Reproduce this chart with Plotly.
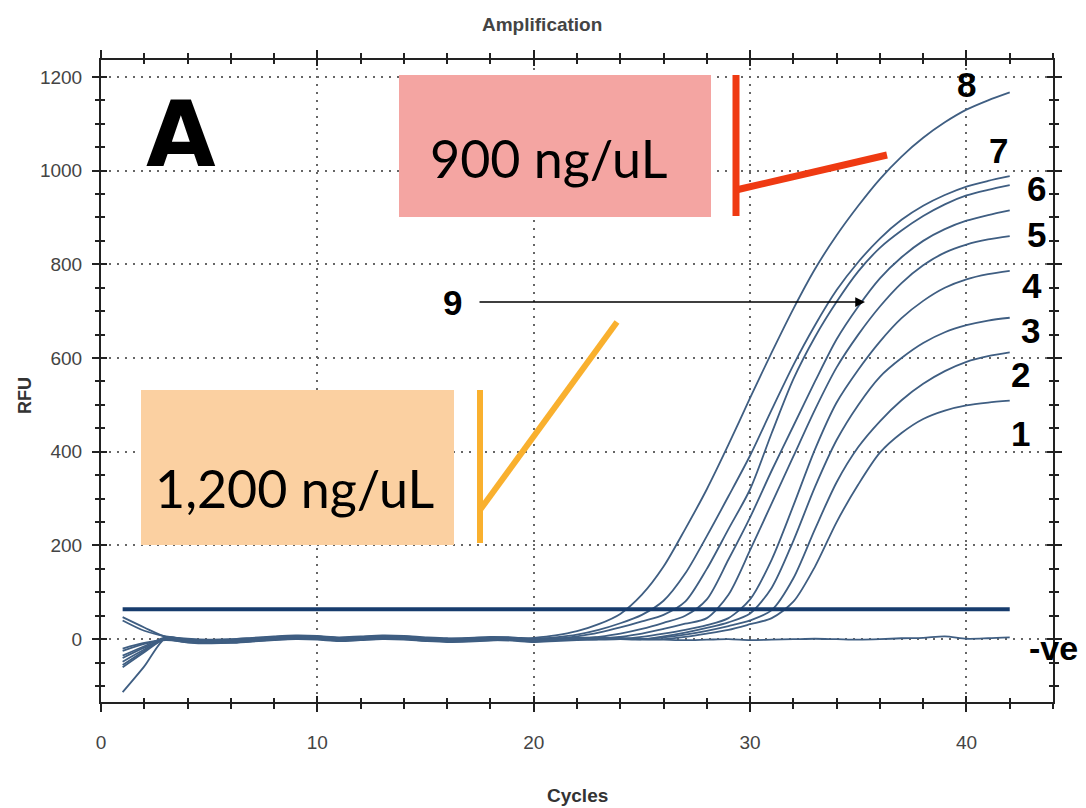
import plotly.graph_objects as go

# ---------------- data ----------------
cycles = list(range(1, 43))

# shared baseline (RFU) for cycles 1..42 (used by -ve and by flat parts of the curves)
baseline = [0, 5, 2, -3, -5, -4, -1, 2, 4, 3, 0, 2, 4, 3, 0, -2, -1, 1, 0, -3,
            -1, 1, 2, 1, 0, -1, -2, -1, 0, -2, -1, 0, 1, 0, -1, 0, 2, 3, 6, 1, 2, 4]

curve_names = ["A", "B", "C", "D", "E", "F", "G", "H", "I"]
start_c1 = [-25, 47, -40, 40, -55, -20, -113, -35, -48]
start_c2 = [-10, 25, -18, 18, -25, -8, -58, -15, -22]
band_offset = [-4, 3, -2, 4, 0, -3, 1, 2, -1]
rise_start = [19, 20, 21, 22, 23, 24, 25, 25, 26]
rise_A = [0, 3, 8, 17, 32, 54, 95, 155, 235, 320, 415, 515, 612, 705, 790, 862, 925, 982, 1030, 1070, 1103, 1130, 1150, 1167]
rise_B = [0, 4, 10, 20, 34, 52, 82, 140, 220, 305, 392, 490, 585, 670, 745, 805, 855, 895, 925, 948, 966, 978, 988]
rise_C = [0, 6, 14, 25, 38, 52, 80, 150, 235, 320, 440, 555, 645, 720, 785, 835, 872, 903, 928, 947, 959, 969]
rise_D = [0, 5, 12, 22, 35, 50, 85, 170, 260, 360, 455, 550, 640, 710, 770, 815, 850, 875, 893, 905, 915]
rise_E = [0, 5, 12, 22, 33, 45, 95, 190, 290, 390, 490, 580, 650, 710, 760, 798, 825, 842, 853, 860]
rise_F = [0, 5, 12, 20, 30, 45, 85, 170, 285, 405, 505, 575, 635, 685, 722, 750, 768, 779, 786]
rise_G = [0, 6, 14, 24, 36, 55, 110, 210, 325, 425, 500, 560, 600, 632, 655, 670, 680, 686]
rise_H = [0, 4, 10, 18, 28, 40, 62, 130, 235, 335, 410, 465, 510, 545, 572, 592, 604, 612]
rise_I = [0, 5, 12, 20, 32, 45, 80, 155, 250, 330, 398, 440, 470, 488, 499, 505, 509]
rises = [rise_A, rise_B, rise_C, rise_D, rise_E, rise_F, rise_G, rise_H, rise_I]

neg_c1, neg_c2 = -60, -28
threshold_x = [1, 42]
threshold_y = [64, 64]

curve_labels = ["8", "7", "6", "5", "4", "3", "2", "1"]
label_px = [(966, 84), (998, 150), (1036, 188), (1036, 234), (1032, 285), (1030, 330), (1020, 374), (1020, 434)]

# ---------------- layout helpers ----------------
W, H = 1086, 808
L, R, T, B = 101, 1053, 60, 702
def px(x):
    return (x - L) / (R - L)
def py(y):
    return (B - y) / (B - T)

LINE = "#3f5e82"
fig = go.Figure()

for i, name in enumerate(curve_names):
    ys = []
    for c in cycles:
        if c == 1:
            ys.append(start_c1[i])
        elif c == 2:
            ys.append(start_c2[i])
        elif c < rise_start[i]:
            ys.append(baseline[c - 1] + band_offset[i])
        else:
            ys.append(rises[i][c - rise_start[i]])
    fig.add_trace(go.Scatter(x=cycles, y=ys, mode="lines", name=name,
                             line=dict(color=LINE, width=1.8, shape="spline", smoothing=0.8),
                             showlegend=False))

neg = [neg_c1, neg_c2] + baseline[2:]
fig.add_trace(go.Scatter(x=cycles, y=neg, mode="lines", name="-ve",
                         line=dict(color=LINE, width=1.8, shape="spline", smoothing=0.8), showlegend=False))

fig.add_trace(go.Scatter(x=threshold_x, y=threshold_y, mode="lines", name="threshold",
                         line=dict(color="#173c6d", width=4), showlegend=False))

# invisible trace for overlay axes (inside ticks)
fig.add_trace(go.Scatter(x=[0], y=[0], xaxis="x2", yaxis="y2", mode="markers",
                         marker=dict(opacity=0), showlegend=False, hoverinfo="skip"))

TICKFONT = dict(family="Liberation Sans Narrow, Arial Narrow, Liberation Sans, Arial", size=19, color="#444")
GRID = dict(showgrid=True, gridcolor="#666", gridwidth=2, griddash="2px,6px")

fig.update_layout(
    width=W, height=H,
    margin=dict(l=L, r=W - R, t=T, b=H - B),
    paper_bgcolor="white", plot_bgcolor="white",
    xaxis=dict(range=[0, 44], tickvals=[0, 10, 20, 30, 40], ticks="outside", ticklen=8,
               tickwidth=2, tickcolor="#222", showline=True, linecolor="#222", linewidth=2,
               mirror="ticks", zeroline=False, tickfont=TICKFONT, ticklabelstandoff=14,
               minor=dict(dtick=2, tick0=0, ticks="outside", ticklen=5, tickwidth=2, tickcolor="#222", showgrid=False),
               **GRID),
    yaxis=dict(range=[-134, 1236], tickvals=[0, 200, 400, 600, 800, 1000, 1200], ticks="outside",
               ticklen=7, tickwidth=2, tickcolor="#222", showline=True, linecolor="#222", linewidth=2,
               mirror="ticks", zeroline=False, tickfont=TICKFONT, ticklabelstandoff=6,
               minor=dict(dtick=50, tick0=0, ticks="outside", ticklen=4, tickwidth=2, tickcolor="#222", showgrid=False),
               **GRID),
    xaxis2=dict(range=[0, 44], overlaying="x", tickvals=[0, 10, 20, 30, 40], ticks="inside", ticklen=6,
                tickwidth=2, tickcolor="#222", showticklabels=False, showgrid=False, zeroline=False,
                mirror="ticks", showline=False,
                minor=dict(dtick=2, tick0=0, ticks="inside", ticklen=4, tickwidth=2, tickcolor="#222")),
    yaxis2=dict(range=[-134, 1236], overlaying="y", tickvals=[0, 200, 400, 600, 800, 1000, 1200],
                ticks="inside", ticklen=6, tickwidth=2, tickcolor="#222", showticklabels=False,
                showgrid=False, zeroline=False, mirror="ticks", showline=False,
                minor=dict(dtick=50, tick0=0, ticks="inside", ticklen=4, tickwidth=2, tickcolor="#222")),
)

shapes = []
# pink box & red bracket
shapes.append(dict(type="rect", xref="paper", yref="paper", x0=px(399), x1=px(711), y0=py(217), y1=py(75),
                   fillcolor="#F4A5A2", line=dict(width=0), layer="above"))
shapes.append(dict(type="line", xref="paper", yref="paper", x0=px(736), x1=px(736), y0=py(216), y1=py(75),
                   line=dict(color="#EF3A12", width=7)))
shapes.append(dict(type="line", xref="paper", yref="paper", x0=px(736), x1=px(887), y0=py(190), y1=py(155),
                   line=dict(color="#EF3A12", width=7)))
# orange box & bracket
shapes.append(dict(type="rect", xref="paper", yref="paper", x0=px(141), x1=px(454), y0=py(545), y1=py(390),
                   fillcolor="#FBD0A1", line=dict(width=0), layer="above"))
shapes.append(dict(type="line", xref="paper", yref="paper", x0=px(480), x1=px(480), y0=py(543), y1=py(390),
                   line=dict(color="#F9B02E", width=6)))
shapes.append(dict(type="line", xref="paper", yref="paper", x0=px(480), x1=px(617), y0=py(510), y1=py(322),
                   line=dict(color="#F9B02E", width=6)))
fig.update_layout(shapes=shapes)

ann = []
ann.append(dict(text="<b>Amplification</b>", x=px(542), y=py(25), xref="paper", yref="paper", showarrow=False,
                font=dict(family="Liberation Sans Narrow, Arial Narrow, Liberation Sans", size=19, color="#444"),
                xanchor="center", yanchor="middle"))
ann.append(dict(text="<b>Cycles</b>", x=px(577), y=py(795), xref="paper", yref="paper", showarrow=False,
                font=dict(family="Liberation Sans Narrow, Arial Narrow, Liberation Sans", size=19, color="#333"),
                xanchor="center", yanchor="middle"))
ann.append(dict(text="<b>RFU</b>", x=px(25), y=py(396), xref="paper", yref="paper", showarrow=False, textangle=-90,
                font=dict(family="Liberation Sans", size=18, color="#333"), xanchor="center", yanchor="middle"))
ann.append(dict(text="<b>A</b>", x=px(181), y=py(134), xref="paper", yref="paper", showarrow=False,
                font=dict(family="DejaVu Sans", size=90, color="black"), xanchor="center", yanchor="middle"))
ann.append(dict(text="900 ng/uL", x=px(548), y=py(158), xref="paper", yref="paper", showarrow=False,
                font=dict(family="Lato, Noto Sans", size=52, color="black"), xanchor="center", yanchor="middle"))
ann.append(dict(text="1,200 ng/uL", x=px(294), y=py(488), xref="paper", yref="paper", showarrow=False,
                font=dict(family="Lato, Noto Sans", size=52, color="black"), xanchor="center", yanchor="middle"))
for lab, (lx, ly) in zip(curve_labels, label_px):
    ann.append(dict(text="<b>" + lab + "</b>", x=px(lx), y=py(ly), xref="paper", yref="paper", showarrow=False,
                    font=dict(family="Liberation Sans, Arial", size=35, color="black"),
                    xanchor="center", yanchor="middle"))
ann.append(dict(text="<b>-ve</b>", x=px(1053), y=py(648), xref="paper", yref="paper", showarrow=False,
                font=dict(family="Liberation Sans, Arial", size=34, color="black"), xanchor="center", yanchor="middle"))
ann.append(dict(text="<b>9</b>", x=px(452), y=py(302), xref="paper", yref="paper", showarrow=False,
                font=dict(family="Liberation Sans, Arial", size=35, color="black"), xanchor="center", yanchor="middle"))
ann.append(dict(text="", x=px(865), y=py(302), xref="paper", yref="paper", showarrow=True,
                ax=478 - 865, ay=0, arrowhead=2, arrowsize=1.3, arrowwidth=1.5, arrowcolor="black"))
fig.update_layout(annotations=ann)

fig.write_html("out.html", config={"displayModeBar": False},
               post_script="document.body.style.margin='0';document.body.style.overflow='hidden';")
